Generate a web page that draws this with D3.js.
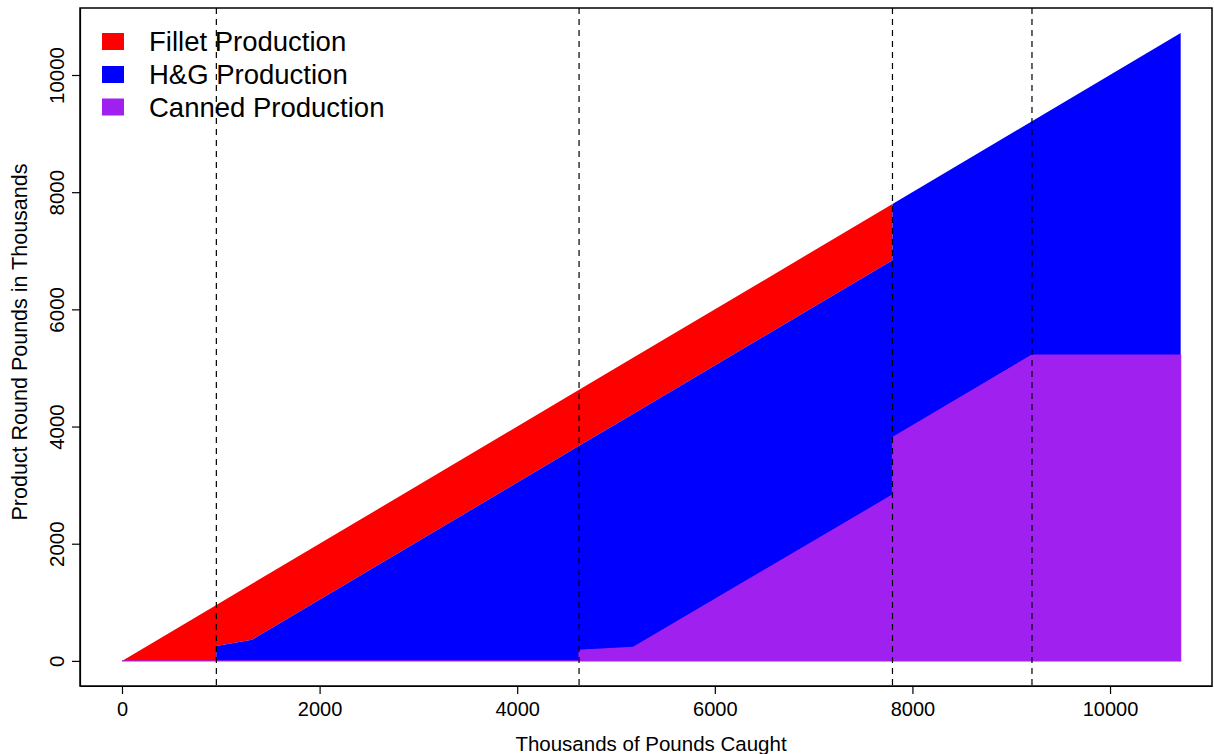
<!DOCTYPE html>
<html>
<head>
<meta charset="utf-8">
<script src="https://cdn.jsdelivr.net/npm/d3@7"></script>
<style>
  html, body { margin: 0; padding: 0; background: #fff; }
  svg { display: block; }
  text { font-family: "Liberation Sans", Arial, Helvetica, sans-serif; fill: #000; }
</style>
</head>
<body>
<svg id="chart" width="1214" height="754"></svg>
<script>
// ---- data (thousands of pounds) ----
const caught = [0, 955, 955, 1316, 4626, 4626, 5172, 7798, 7798, 9210, 10715];
const canned = [0, 0, 0, 0, 0, 180, 230, 2830, 3810, 5220, 5220];
const hg     = [0, 0, 255, 360, 3670, 3490, 3985, 4010, 3988, 3990, 5495];
const fillet = [0, 955, 700, 956, 956, 956, 957, 958, 0, 0, 0];
const breakpoints = [955, 4626, 7798, 9210];
const xTicks = [0, 2000, 4000, 6000, 8000, 10000];
const yTicks = [0, 2000, 4000, 6000, 8000, 10000];
const seriesNames = ["Fillet Production", "H&G Production", "Canned Production"];
const seriesColors = ["#FF0000", "#0000FF", "#A020F0"];
const xTitle = "Thousands of Pounds Caught";
const yTitle = "Product Round Pounds in Thousands";

// ---- layout ----
const svg = d3.select("#chart");
const box = { left: 80, right: 1212, top: 8, bottom: 686 };

const x = d3.scaleLinear().domain([-425, 11032]).range([box.left, box.right]);
const y = d3.scaleLinear().domain([-428.6, 11143.6]).range([box.bottom, box.top]);

const rows = caught.map((c, i) => ({ caught: c, canned: canned[i], hg: hg[i], fillet: fillet[i] }));
const stack = d3.stack().keys(["canned", "hg", "fillet"]);
const layers = stack(rows);

const area = d3.area()
  .x(d => x(d.data.caught))
  .y0(d => y(d[0]))
  .y1(d => y(d[1]))
  .curve(d3.curveLinear);

const colorByKey = { fillet: seriesColors[0], hg: seriesColors[1], canned: seriesColors[2] };

// draw fillet, then hg, then canned on top
["fillet", "hg", "canned"].forEach(k => {
  const layer = layers.find(l => l.key === k);
  svg.append("path")
    .datum(layer)
    .attr("d", area)
    .attr("fill", colorByKey[k])
    .attr("stroke", k === "canned" ? colorByKey[k] : "none")
    .attr("stroke-width", k === "canned" ? 1.2 : 0)
    .attr("stroke-linejoin", "miter");
});

// dashed vertical lines
svg.selectAll("line.brk").data(breakpoints).enter().append("line")
  .attr("class", "brk")
  .attr("x1", d => x(d)).attr("x2", d => x(d))
  .attr("y1", box.top).attr("y2", box.bottom)
  .attr("stroke", "#000").attr("stroke-width", 1.2)
  .attr("stroke-dasharray", "6,5");

// axes
const xAxis = d3.axisBottom(x).tickValues(xTicks).tickSize(8).tickPadding(8).tickSizeOuter(0).tickFormat(d3.format("d"));
const gx = svg.append("g").attr("transform", `translate(0,${box.bottom})`).call(xAxis);
gx.selectAll("text").style("font-size", "20px").attr("dy", "0.71em");
gx.selectAll("line, path").attr("stroke", "#000").attr("stroke-width", 1.2);

const yAxis = d3.axisLeft(y).tickValues(yTicks).tickSize(8).tickSizeOuter(0).tickFormat(d3.format("d"));
const gy = svg.append("g").attr("transform", `translate(${box.left},0)`).call(yAxis);
gy.selectAll("line, path").attr("stroke", "#000").attr("stroke-width", 1.2);
gy.selectAll("text")
  .style("font-size", "20.5px")
  .attr("text-anchor", "middle")
  .attr("x", null).attr("dy", null)
  .attr("transform", "translate(-16,0) rotate(-90)");

// frame
svg.append("rect")
  .attr("x", box.left).attr("y", box.top)
  .attr("width", box.right - box.left).attr("height", box.bottom - box.top)
  .attr("fill", "none").attr("stroke", "#000").attr("stroke-width", 1.5);

// titles
svg.append("text")
  .attr("x", 651).attr("y", 751)
  .attr("text-anchor", "middle")
  .style("font-size", "20.5px")
  .text(xTitle);

svg.append("text")
  .attr("transform", "translate(27,342) rotate(-90)")
  .attr("text-anchor", "middle")
  .style("font-size", "21.5px")
  .text(yTitle);

// legend
const legend = svg.append("g");
const legendY = [41.5, 74.5, 107];
seriesNames.forEach((name, i) => {
  legend.append("rect")
    .attr("x", 102).attr("y", legendY[i] - 8.5)
    .attr("width", 22).attr("height", 17)
    .attr("fill", seriesColors[i]);
  legend.append("text")
    .attr("x", 149).attr("y", legendY[i])
    .attr("dy", "0.35em")
    .style("font-size", "27.5px")
    .text(name);
});
</script>
</body>
</html>
